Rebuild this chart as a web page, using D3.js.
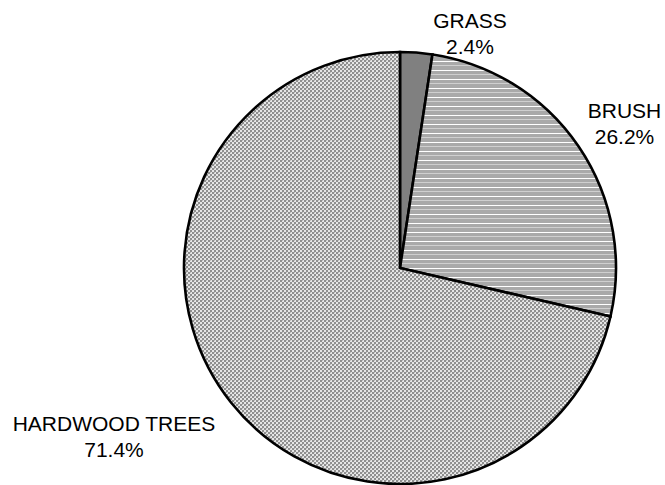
<!DOCTYPE html>
<html>
<head>
<meta charset="utf-8">
<script src="https://cdn.jsdelivr.net/npm/d3@7"></script>
<style>
  html, body { margin: 0; padding: 0; background: #fff; }
  svg { display: block; }
</style>
</head>
<body>
<script>
const categories = ["GRASS", "BRUSH", "HARDWOOD TREES"];
const values = [2.4, 26.2, 71.4];
const labels = ["2.4%", "26.2%", "71.4%"];

const W = 665, H = 485;
const cx = 400, cy = 268, R = 216;

const svg = d3.select("body").append("svg").attr("width", W).attr("height", H);
const defs = svg.append("defs");

// Brush: horizontal stripes
const pb = defs.append("pattern").attr("id", "pat-brush").attr("patternUnits", "userSpaceOnUse")
  .attr("width", 8).attr("height", 9);
pb.append("rect").attr("width", 8).attr("height", 9).attr("fill", "#a9a9a9");
pb.append("rect").attr("y", 0).attr("width", 8).attr("height", 1).attr("fill", "#ffffff");
pb.append("rect").attr("y", 4).attr("width", 8).attr("height", 1).attr("fill", "#cfcfcf");

// Hardwood: checker pattern
const ph = defs.append("pattern").attr("id", "pat-hard").attr("patternUnits", "userSpaceOnUse")
  .attr("width", 4).attr("height", 4);
ph.append("rect").attr("width", 4).attr("height", 4).attr("fill", "#e6e6e6");
ph.append("rect").attr("x", 0).attr("y", 0).attr("width", 2).attr("height", 2).attr("fill", "#8f8f8f");
ph.append("rect").attr("x", 2).attr("y", 2).attr("width", 2).attr("height", 2).attr("fill", "#8f8f8f");
ph.append("rect").attr("x", 2).attr("y", 0).attr("width", 1).attr("height", 1).attr("fill", "#bdbdbd");

const fills = d3.scaleOrdinal().domain(categories)
  .range(["#808080", "url(#pat-brush)", "url(#pat-hard)"]);

const pie = d3.pie().sort(null).value(d => d.v);
const arcs = pie(categories.map((c, i) => ({ c, v: values[i], l: labels[i] })));
const arc = d3.arc().innerRadius(0).outerRadius(R);

const g = svg.append("g").attr("transform", `translate(${cx},${cy})`);
g.selectAll("path").data(arcs).enter().append("path")
  .attr("d", arc)
  .attr("fill", d => fills(d.data.c))
  .attr("stroke", "#000")
  .attr("stroke-width", 2.6)
  .attr("stroke-linejoin", "miter");

// label placement
const labelPos = {
  "GRASS": [470, 27.5],
  "BRUSH": [624.5, 118],
  "HARDWOOD TREES": [114, 431]
};
const lg = svg.append("g")
  .attr("font-family", "Arial, 'Liberation Sans', Helvetica, sans-serif")
  .attr("font-size", 21)
  .attr("fill", "#000")
  .attr("text-anchor", "middle");
arcs.forEach(a => {
  const [x, y] = labelPos[a.data.c];
  const t = lg.append("text").attr("x", x).attr("y", y);
  t.append("tspan").attr("x", x).attr("dy", 0).text(a.data.c);
  t.append("tspan").attr("x", x).attr("dy", 26).text(a.data.l);
});
</script>
</body>
</html>
